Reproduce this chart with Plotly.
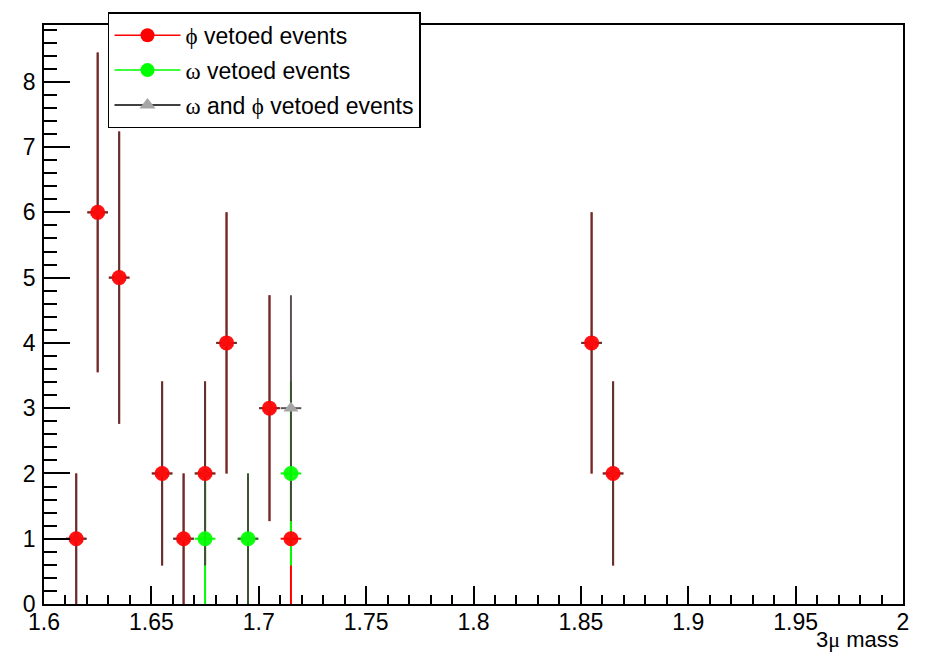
import plotly.graph_objects as go

# ---- data (bin centres of 0.01-wide bins, counts and Poisson errors) ----
phi_x = [1.615, 1.625, 1.635, 1.655, 1.665, 1.675, 1.685, 1.705, 1.715, 1.855, 1.865]
phi_y = [1, 6, 5, 2, 1, 2, 4, 3, 1, 4, 2]
phi_err = [1.0, 2.45, 2.24, 1.41, 1.0, 1.41, 2.0, 1.73, 1.0, 2.0, 1.41]

omega_x = [1.675, 1.695, 1.715]
omega_y = [1, 1, 2]
omega_err = [1.0, 1.0, 1.41]

both_x = [1.615, 1.625, 1.635, 1.655, 1.665, 1.675, 1.685, 1.695, 1.705, 1.715, 1.855, 1.865]
both_y = [1, 6, 5, 2, 1, 2, 4, 1, 3, 3, 4, 2]
both_err = [1.0, 2.45, 2.24, 1.41, 1.0, 1.41, 2.0, 1.0, 1.73, 1.73, 2.0, 1.41]

half_bin = 0.0048

x_ticks = [1.6, 1.65, 1.7, 1.75, 1.8, 1.85, 1.9, 1.95, 2.0]
x_ticklabels = ["1.6", "1.65", "1.7", "1.75", "1.8", "1.85", "1.9", "1.95", "2"]
y_ticks = [0, 1, 2, 3, 4, 5, 6, 7, 8]

SERIF = "font-family:'Liberation Serif','DejaVu Serif',serif"
PHI = "<span style=\"%s\">\u03d5</span>" % SERIF
OMEGA = "<span style=\"%s\">\u03c9</span>" % SERIF
MU = "<span style=\"%s\">\u03bc</span>" % SERIF
legend_names = [PHI + " vetoed events", OMEGA + " vetoed events",
                OMEGA + " and " + PHI + " vetoed events"]
x_title = "3" + MU + " mass"

FONT = "Liberation Sans, Arial, Helvetica, sans-serif"
RED = "rgb(255,0,0)"
GREEN = "rgb(0,255,0)"
GRAY = "rgb(165,165,165)"

fig = go.Figure()


def err_trace(x, y, e, col):
    return go.Scatter(
        x=x, y=y, mode="markers",
        marker=dict(size=1, opacity=0),
        error_y=dict(type="data", array=e, visible=True, color=col, thickness=2, width=0),
        error_x=dict(type="constant", value=half_bin, visible=True, color=col, thickness=2, width=0),
        showlegend=False, hoverinfo="skip",
    )


# error bars (lines) first: red, green, then black on top (semi-transparent)
fig.add_trace(err_trace(phi_x, phi_y, phi_err, RED))
fig.add_trace(err_trace(omega_x, omega_y, omega_err, GREEN))
fig.add_trace(err_trace(both_x, both_y, both_err, "rgba(70,58,58,0.88)"))

# markers on top
fig.add_trace(go.Scatter(x=both_x, y=both_y, mode="markers",
                         marker=dict(symbol="triangle-up", size=13, color=GRAY),
                         showlegend=False))
fig.add_trace(go.Scatter(x=omega_x, y=omega_y, mode="markers",
                         marker=dict(symbol="circle", size=15, color=GREEN, opacity=0.93),
                         showlegend=False))
fig.add_trace(go.Scatter(x=phi_x, y=phi_y, mode="markers",
                         marker=dict(symbol="circle", size=15, color=RED, opacity=0.93),
                         showlegend=False))

# legend entries
for name, col, mcol, sym, grp in [
    (legend_names[0], RED, RED, "circle", "a"),
    (legend_names[1], GREEN, GREEN, "circle", "b"),
    (legend_names[2], "black", GRAY, "triangle-up", "c"),
]:
    fig.add_trace(go.Scatter(x=[None], y=[None], mode="lines+markers", name=name,
                             legendgroup=grp,
                             line=dict(color=col, width=1.5),
                             marker=dict(symbol=sym, size=14, color=mcol)))

axis_common = dict(
    showgrid=False, zeroline=False, showline=True, linecolor="black", linewidth=1.5,
    mirror=True, ticks="inside", tickcolor="black", tickwidth=1.5,
    tickfont=dict(family=FONT, size=23, color="black"),
)

fig.update_xaxes(range=[1.6, 2.0], tickmode="array", tickvals=x_ticks, ticktext=x_ticklabels,
                 ticklen=18, ticklabelstandoff=-3,
                 minor=dict(dtick=0.01, ticklen=9, ticks="inside", tickcolor="black", tickwidth=1.5),
                 **axis_common)
fig.update_yaxes(range=[0, 8.87], tickmode="array", tickvals=y_ticks,
                 ticklen=26, ticklabelstandoff=2,
                 minor=dict(dtick=0.2, ticklen=13, ticks="inside", tickcolor="black", tickwidth=1.5),
                 **axis_common)

fig.add_annotation(text=x_title, xref="paper", yref="paper", x=1.0, y=0,
                   xanchor="right", yanchor="bottom", yshift=-49, xshift=-3, showarrow=False,
                   borderpad=0,
                   font=dict(family=FONT, size=22, color="black"))

fig.update_layout(
    width=932, height=652,
    margin=dict(l=44, r=29, t=22, b=48),
    paper_bgcolor="white", plot_bgcolor="white",
    font=dict(family=FONT, size=22, color="black"),
    legend=dict(x=0.0745, y=1.022, xanchor="left", yanchor="top",
                bgcolor="white", bordercolor="black", borderwidth=1.5,
                font=dict(family=FONT, size=23, color="black"),
                tracegroupgap=2, itemwidth=66),
)

fig.write_html("out.html")
